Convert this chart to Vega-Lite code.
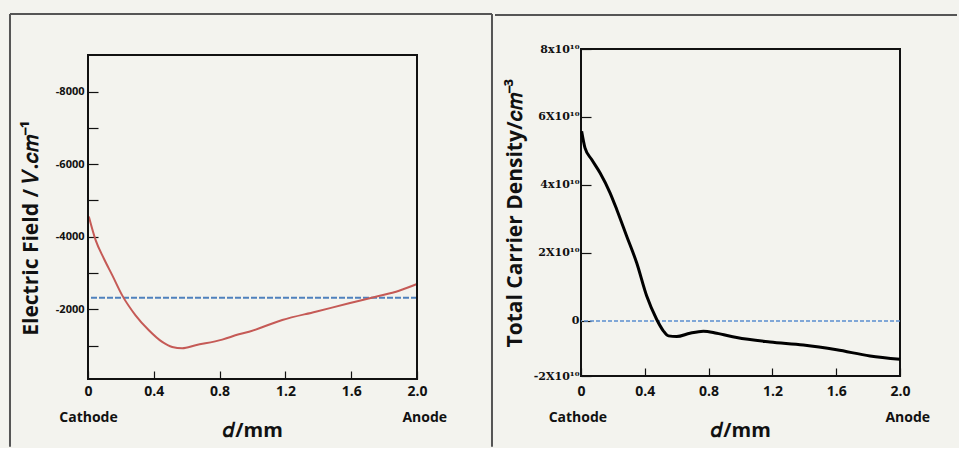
{
  "$schema": "https://vega.github.io/schema/vega-lite/v6.json",
  "background": "#f3f3ee",
  "padding": {"left": 8, "top": 12, "right": 0, "bottom": 0},
  "align": "none",
  "spacing": -1,
  "config": {
    "view": {"stroke": "#111111", "strokeWidth": 2},
    "axis": {
      "grid": false, "domain": false, "tickColor": "#111111", "tickWidth": 1.2,
      "labelFont": "Open Sans", "labelFontWeight": "bold", "labelColor": "#111111",
      "titleFont": "Open Sans", "titleFontWeight": "bold", "titleColor": "#111111",
      "labelFlush": false, "labelOverlap": false
    }
  },
  "datasets": {
    "ef": [
      {"d": 0.005, "E": -4560}, {"d": 0.047, "E": -3899}, {"d": 0.097, "E": -3394},
      {"d": 0.148, "E": -2936}, {"d": 0.208, "E": -2385}, {"d": 0.289, "E": -1835},
      {"d": 0.37, "E": -1422}, {"d": 0.451, "E": -1101}, {"d": 0.512, "E": -963},
      {"d": 0.573, "E": -927}, {"d": 0.654, "E": -1009}, {"d": 0.816, "E": -1165},
      {"d": 0.917, "E": -1312}, {"d": 0.979, "E": -1383}, {"d": 1.181, "E": -1706},
      {"d": 1.384, "E": -1935}, {"d": 1.587, "E": -2166}, {"d": 1.749, "E": -2348},
      {"d": 1.891, "E": -2513}, {"d": 2.0, "E": -2698}
    ],
    "cd": [
      {"d": 0.004, "n": 55800000000}, {"d": 0.025, "n": 50900000000}, {"d": 0.067, "n": 47500000000},
      {"d": 0.119, "n": 43600000000}, {"d": 0.182, "n": 37700000000}, {"d": 0.224, "n": 32800000000},
      {"d": 0.286, "n": 25000000000}, {"d": 0.349, "n": 17100000000}, {"d": 0.412, "n": 7300000000},
      {"d": 0.474, "n": 500000000}, {"d": 0.516, "n": -2900000000}, {"d": 0.548, "n": -4400000000},
      {"d": 0.6, "n": -4600000000}, {"d": 0.683, "n": -3600000000}, {"d": 0.767, "n": -3000000000},
      {"d": 0.851, "n": -3600000000}, {"d": 0.976, "n": -4900000000}, {"d": 1.185, "n": -6200000000},
      {"d": 1.394, "n": -7100000000}, {"d": 1.603, "n": -8500000000}, {"d": 1.812, "n": -10300000000},
      {"d": 2.0, "n": -11300000000}
    ],
    "one": [{}]
  },
  "hconcat": [
    {
      "width": 329,
      "height": 330,
      "view": {"stroke": null},
      "layer": [
        {
          "data": {"name": "one"},
          "mark": {"type": "rule", "color": "#4f81bd", "strokeWidth": 2, "strokeDash": [6, 2]},
          "encoding": {"y": {"datum": -2322, "type": "quantitative"}}
        },
        {
          "data": {"name": "ef"},
          "mark": {"type": "line", "color": "#c55a56", "strokeWidth": 2, "interpolate": "monotone"},
          "encoding": {
            "x": {
              "field": "d", "type": "quantitative",
              "scale": {"domain": [0, 2], "nice": false, "zero": false},
              "axis": {
                "values": [0, 0.2, 0.4, 0.6, 0.8, 1, 1.2, 1.4, 1.6, 1.8, 2],
                "labelExpr": "round(datum.value*10) == 0 ? ['0', 'Cathode'] : round(datum.value*10) == 20 ? ['2.0', '\u200b\u00a0\u00a0\u00a0\u00a0Anode'] : round(datum.value*10) % 4 == 0 ? format(datum.value, '.1f') : ''",
                "tickSize": -8, "labelPadding": 13, "labelFontSize": 14, "labelLineHeight": 26,
                "title": "𝑑/mm", "titleFontSize": 20, "titlePadding": -4
              }
            },
            "y": {
              "field": "E", "type": "quantitative",
              "scale": {"domain": [-9175, -80], "nice": false, "zero": false, "reverse": true},
              "axis": {
                "values": [-8000, -7000, -6000, -5000, -4000, -3000, -2000, -1000],
                "labelExpr": "datum.value % 2000 == 0 ? '' + datum.value : ''",
                "tickSize": -10, "labelPadding": 14, "labelFontSize": 11,
                "title": "Electric Field / 𝑉.𝑐𝑚⁻¹\u00a0\u00a0\u00a0\u00a0\u00a0\u200b", "titleFontSize": 21, "titlePadding": 14
              }
            }
          }
        },
        {
          "data": {"name": "one"},
          "mark": {"type": "rect", "fill": "transparent", "stroke": "#111111", "strokeWidth": 2},
          "encoding": {"x": {"datum": 0, "type": "quantitative"}, "x2": {"datum": 2}, "y": {"datum": -9010, "type": "quantitative"}, "y2": {"datum": -80}}
        },
        {
          "data": {"name": "one"},
          "mark": {"type": "rule", "color": "#555555", "strokeWidth": 2},
          "encoding": {"x": {"datum": -0.4742, "type": "quantitative"}, "y": {"datum": -10140, "type": "quantitative"}, "y2": {"datum": 1790}}
        },
        {
          "data": {"name": "one"},
          "mark": {"type": "rule", "color": "#555555", "strokeWidth": 2},
          "encoding": {"x": {"datum": 2.4559, "type": "quantitative"}, "y": {"datum": -10140, "type": "quantitative"}, "y2": {"datum": 1790}}
        },
        {
          "data": {"name": "one"},
          "mark": {"type": "rule", "color": "#555555", "strokeWidth": 2},
          "encoding": {"x": {"datum": -0.4742, "type": "quantitative"}, "x2": {"datum": 2.4559}, "y": {"datum": -10140, "type": "quantitative"}}
        }
      ]
    },
    {
      "width": 319,
      "height": 327,
      "layer": [
        {
          "data": {"name": "one"},
          "mark": {"type": "rule", "color": "#5b8fd0", "strokeWidth": 1.5, "strokeDash": [4, 2]},
          "encoding": {"y": {"datum": 0, "type": "quantitative"}}
        },
        {
          "data": {"name": "cd"},
          "mark": {"type": "line", "color": "#000000", "strokeWidth": 3, "interpolate": "monotone"},
          "encoding": {
            "x": {
              "field": "d", "type": "quantitative",
              "scale": {"domain": [0, 2], "nice": false, "zero": false},
              "axis": {
                "values": [0, 0.2, 0.4, 0.6, 0.8, 1, 1.2, 1.4, 1.6, 1.8, 2],
                "labelExpr": "round(datum.value*10) == 0 ? ['0', 'Cathode\u00a0\u00a0\u200b'] : round(datum.value*10) == 20 ? ['2.0', '\u200b\u00a0\u00a0\u00a0\u00a0Anode'] : round(datum.value*10) % 4 == 0 ? format(datum.value, '.1f') : ''",
                "tickSize": -8, "labelPadding": 16, "labelFontSize": 14, "labelLineHeight": 26,
                "title": "𝑑/mm", "titleFontSize": 20, "titlePadding": -4
              }
            },
            "y": {
              "field": "n", "type": "quantitative",
              "scale": {"domain": [-16200000000, 80000000000], "nice": false, "zero": false},
              "axis": {
                "values": [-16200000000, -10000000000, 0, 10000000000, 20000000000, 30000000000, 40000000000, 50000000000, 60000000000, 70000000000, 80000000000],
                "labelExpr": "round(datum.value/1e10) == 8 ? '8x10¹⁰' : round(datum.value/1e10) == 6 ? '6X10¹⁰' : round(datum.value/1e10) == 4 ? '4x10¹⁰' : round(datum.value/1e10) == 2 ? '2X10¹⁰' : round(datum.value/1e10) == 0 ? '0' : round(datum.value/1e10) == -2 ? '-2X10¹⁰' : ''",
                "labelFont": "DejaVu Serif", "labelFontSize": 11,
                "tickSize": -10, "labelPadding": 12,
                "title": "Total Carrier Density/𝑐𝑚⁻³", "titleFontSize": 21, "titlePadding": 8
              }
            }
          }
        },
        {
          "data": {"name": "one"},
          "mark": {"type": "rule", "color": "#555555", "strokeWidth": 2},
          "encoding": {"x": {"datum": -0.5392, "type": "quantitative"}, "x2": {"datum": 2.3574}, "y": {"datum": 90000000000, "type": "quantitative"}}
        }
      ]
    }
  ]
}
